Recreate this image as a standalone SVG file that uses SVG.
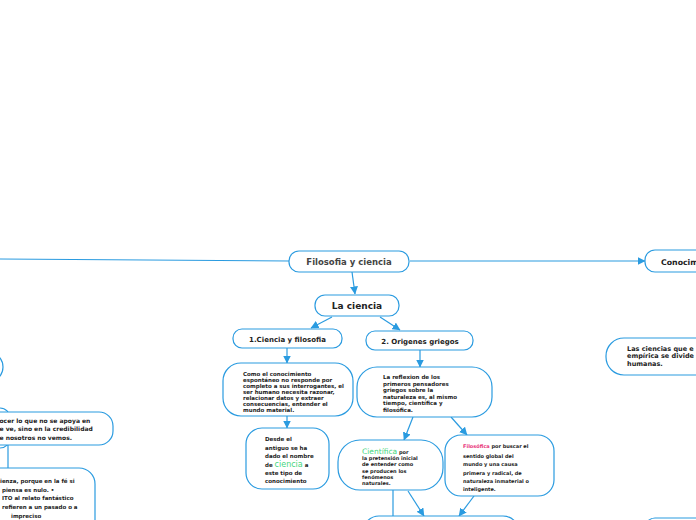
<svg xmlns="http://www.w3.org/2000/svg" width="696" height="520" viewBox="0 0 696 520">
<defs>
<marker id="ah" markerUnits="userSpaceOnUse" markerWidth="8" markerHeight="8" viewBox="0 0 8 8" refX="7.5" refY="4" orient="auto">
<path d="M0,0 L8,4 L0,8 Z" fill="#2a9be0"/>
</marker>
<style>
.box{fill:#fff;stroke:#2a9be0;stroke-width:1.2}
.edge{fill:none;stroke:#2a9be0;stroke-width:1.2}
.arr{marker-end:url(#ah)}
text{font-family:"DejaVu Sans","Liberation Sans",sans-serif;font-weight:bold;fill:#222}
.s5{font-size:5px}
.s55{font-size:5.5px}
.s6{font-size:6px}
.green{fill:#45d67e;font-weight:normal}
.pink{fill:#e8337a}
</style>
</defs>
<rect width="696" height="520" fill="#fff"/>
<g id="connectors">
<line class="edge" x1="0" y1="259" x2="289" y2="261"/>
<line class="edge arr" x1="410" y1="261" x2="645" y2="261"/>
<line class="edge arr" x1="352" y1="272" x2="355" y2="294"/>
<line class="edge arr" x1="332" y1="317" x2="311" y2="328"/>
<line class="edge arr" x1="380" y1="317" x2="400" y2="330"/>
<line class="edge arr" x1="287" y1="348" x2="287" y2="363"/>
<line class="edge arr" x1="287" y1="416" x2="287" y2="428"/>
<line class="edge arr" x1="420" y1="350" x2="420" y2="367"/>
<line class="edge arr" x1="413" y1="417" x2="404" y2="440"/>
<line class="edge arr" x1="451" y1="417" x2="467" y2="435"/>
<line class="edge" x1="393" y1="490" x2="393" y2="516"/>
<line class="edge arr" x1="408" y1="491" x2="424" y2="516"/>
<line class="edge arr" x1="474" y1="496" x2="459" y2="516"/>
<line class="edge" x1="8" y1="445" x2="8" y2="468"/>
</g>
<g id="n-left-top"><rect class="box" x="-100" y="352" width="103" height="30" rx="15"/></g>
<g id="n-left-behind"><rect class="box" x="-90" y="408" width="100" height="40" rx="10"/></g>
<g id="n-left-fe">
<rect class="box" x="-60" y="412" width="173" height="33" rx="14"/>
<text class="s6" x="-0.5" y="423">ocer lo que no se apoya en</text>
<text class="s6" x="-0.5" y="431">e ve, sino  en la credibilidad</text>
<text class="s6" x="-0.5" y="440">e nosotros no vemos.</text>
</g>
<g id="n-left-bottom">
<rect class="box" x="-60" y="468" width="155" height="90" rx="16"/>
<text class="s55" x="0" y="483">ienza, porque en la fé si</text>
<text class="s55" x="2" y="492">piensa es nulo. •</text>
<text class="s55" x="2" y="500">ITO al relato fantástico</text>
<text class="s55" x="2" y="509">refieren a un pasado  o a</text>
<text class="s55" x="11" y="518">impreciso</text>
</g>
<g id="n-filosofia">
<rect class="box" x="289" y="251" width="120" height="21" rx="10"/>
<text x="349" y="265" font-size="8.5" text-anchor="middle" style="fill:#444">Filosofia y ciencia</text>
</g>
<g id="n-conocimiento">
<rect class="box" x="645" y="250" width="120" height="22" rx="10"/>
<text x="661" y="265" font-size="7.8">Conocim</text>
</g>
<g id="n-la-ciencia">
<rect class="box" x="315" y="295" width="84" height="21" rx="10"/>
<text x="357" y="309" font-size="9" text-anchor="middle">La ciencia</text>
</g>
<g id="n-c1">
<rect class="box" x="233" y="329" width="109" height="19" rx="9"/>
<text x="287.5" y="341.5" font-size="7" text-anchor="middle">1.Ciencia y filosofia</text>
</g>
<g id="n-c2">
<rect class="box" x="366" y="331" width="107" height="19" rx="9"/>
<text x="420" y="343.5" font-size="7" text-anchor="middle">2. Origenes griegos</text>
</g>
<g id="n-conocimiento-espontaneo">
<rect class="box" x="223" y="363" width="130" height="53" rx="18"/>
<text class="s55" x="243" y="376">Como el conocimiento</text>
<text class="s55" x="243" y="382">espontáneo no responde por</text>
<text class="s55" x="243" y="388">completo a sus interrogantes, el</text>
<text class="s55" x="243" y="394">ser humano necesita razonar,</text>
<text class="s55" x="243" y="400">relacionar datos y extraer</text>
<text class="s55" x="243" y="406">consecuencias, entender el</text>
<text class="s55" x="243" y="411.5">mundo material.</text>
</g>
<g id="n-desde">
<rect class="box" x="246" y="428" width="83" height="61" rx="16"/>
<text class="s55" x="265" y="441">Desde el</text>
<text class="s55" x="265" y="450">antiguo se ha</text>
<text class="s55" x="265" y="458">dado el nombre</text>
<text class="s55" x="265" y="466.5">de <tspan class="green" font-size="8">ciencia</tspan> a</text>
<text class="s55" x="265" y="475">este tipo de</text>
<text class="s55" x="265" y="483">conocimiento</text>
</g>
<g id="n-reflexion">
<rect class="box" x="357" y="367" width="135" height="50" rx="20"/>
<text class="s55" x="383" y="379">La reflexion de los</text>
<text class="s55" x="383" y="385.5">primeros pensadores</text>
<text class="s55" x="383" y="392">griegos sobre la</text>
<text class="s55" x="383" y="398.5">naturaleza es, al mismo</text>
<text class="s55" x="383" y="405">tiempo, científica y</text>
<text class="s55" x="383" y="411.5">filosófica.</text>
</g>
<g id="n-cientifica">
<rect class="box" x="338" y="440" width="105" height="50" rx="22"/>
<text class="s5" x="362" y="454"><tspan class="green" font-size="7.5">Científica</tspan>  por</text>
<text class="s5" x="362" y="460">la pretensión inicial</text>
<text class="s5" x="362" y="466.3">de entender como</text>
<text class="s5" x="362" y="472.6">se producen los</text>
<text class="s5" x="362" y="478.9">fenómenos</text>
<text class="s5" x="362" y="485.2">naturales.</text>
</g>
<g id="n-filosofica">
<rect class="box" x="445" y="435" width="109" height="61" rx="16"/>
<text class="s5" x="463" y="448"><tspan class="pink">Filosófica</tspan> por buscar el</text>
<text class="s5" x="463" y="457.5">sentido global del</text>
<text class="s5" x="463" y="466">mundo y una causa</text>
<text class="s5" x="463" y="474.5">primera y radical, de</text>
<text class="s5" x="463" y="483">naturaleza inmaterial o</text>
<text class="s5" x="463" y="491">inteligente.</text>
</g>
<g id="n-bottom"><rect class="box" x="363" y="516" width="156" height="40" rx="16"/></g>
<g id="n-ciencias-empiricas">
<rect class="box" x="606" y="338" width="150" height="37" rx="18"/>
<text x="627" y="351" font-size="6.5">Las ciencias que e</text>
<text x="627" y="358" font-size="6.5">empírica se divide</text>
<text x="627" y="365.5" font-size="6.5">humanas.</text>
</g>
<g id="n-bottom-right"><rect class="box" x="645" y="518" width="100" height="30" rx="10"/></g>
</svg>
